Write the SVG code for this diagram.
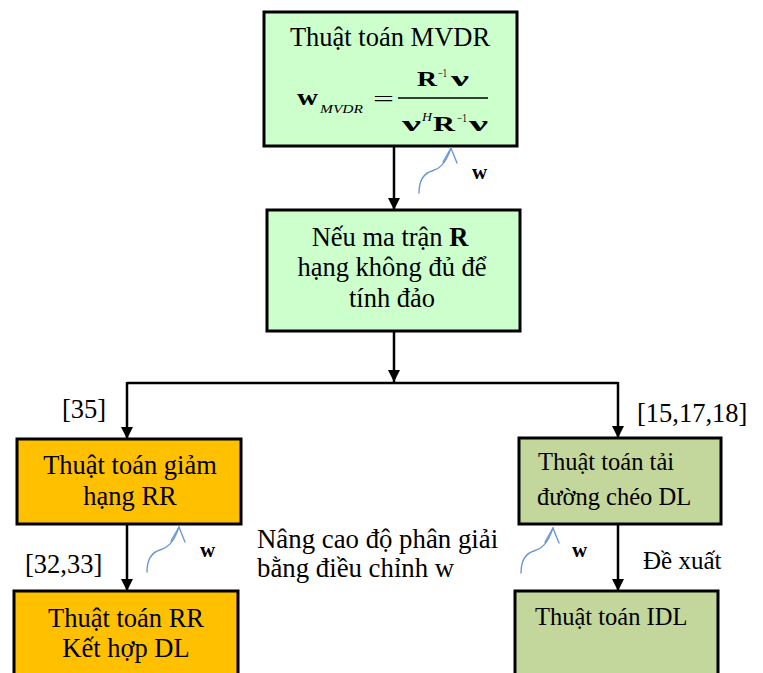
<svg xmlns="http://www.w3.org/2000/svg" width="763" height="673" viewBox="0 0 763 673">
  <defs>
    <style>
      .t { font-family: "Liberation Serif", "Times New Roman", serif; fill: #000; }
      .box { stroke: #000; stroke-width: 3; }
      .mint { fill: #CCFFCC; }
      .amber { fill: #FFC000; }
      .olive { fill: #C3D69B; }
      .conn { stroke: #000; stroke-width: 2.5; fill: none; }
      .hint { stroke: #6C98D2; stroke-width: 1.4; fill: none; stroke-linecap: round; }
      .lbl { font-size: 26.5px; }
    </style>
    <marker id="ah" viewBox="0 0 12 12" refX="12" refY="6" markerWidth="12" markerHeight="12" markerUnits="userSpaceOnUse" orient="auto">
      <path d="M0,0 L12,6 L0,12 Z" fill="#000"/>
    </marker>
    <g id="wiggle">
      <path class="hint" d="M0,0 C0,-14 6,-20 13,-22 C20,-24 26,-28 32,-45"/>
      <path class="hint" d="M24,-31 L32,-45 L38,-30"/>
    </g>
  </defs>

  <rect width="763" height="673" fill="#fff"/>

  <!-- connectors -->
  <g id="connectors">
    <line class="conn" x1="394" y1="146" x2="394" y2="210" marker-end="url(#ah)"/>
    <line class="conn" x1="394" y1="331" x2="394" y2="382" marker-end="url(#ah)"/>
    <line class="conn" x1="127" y1="383" x2="618" y2="383"/>
    <line class="conn" x1="127" y1="382" x2="127" y2="439" marker-end="url(#ah)"/>
    <line class="conn" x1="618" y1="382" x2="618" y2="438" marker-end="url(#ah)"/>
    <line class="conn" x1="127" y1="524" x2="127" y2="591" marker-end="url(#ah)"/>
    <line class="conn" x1="618" y1="524" x2="618" y2="591" marker-end="url(#ah)"/>
  </g>

  <!-- MVDR node -->
  <g id="mvdr">
    <rect class="box mint" x="264" y="12" width="253" height="134"/>
    <text class="t lbl" x="390" y="46" text-anchor="middle">Thuật toán MVDR</text>
    <text class="t" x="297" y="105" font-size="24" font-weight="bold" textLength="21" lengthAdjust="spacingAndGlyphs">w</text>
    <text class="t" x="320" y="113" font-size="13" font-style="italic" textLength="43" lengthAdjust="spacingAndGlyphs">MVDR</text>
    <text class="t" x="373" y="106" font-size="22" textLength="21" lengthAdjust="spacingAndGlyphs">=</text>
    <line x1="398" y1="98" x2="488" y2="98" stroke="#000" stroke-width="1.5"/>
    <text class="t" x="417" y="86" font-size="22" font-weight="bold" textLength="20" lengthAdjust="spacingAndGlyphs">R</text>
    <text class="t" x="438" y="77" font-size="12" textLength="9" lengthAdjust="spacingAndGlyphs">−1</text>
    <text class="t" x="451" y="86" font-size="22" font-weight="bold" textLength="18" lengthAdjust="spacingAndGlyphs">ν</text>
    <text class="t" x="402" y="131" font-size="22" font-weight="bold" textLength="19" lengthAdjust="spacingAndGlyphs">ν</text>
    <text class="t" x="422" y="121" font-size="13" font-style="italic" textLength="10" lengthAdjust="spacingAndGlyphs">H</text>
    <text class="t" x="433" y="131" font-size="22" font-weight="bold" textLength="22" lengthAdjust="spacingAndGlyphs">R</text>
    <text class="t" x="457" y="122" font-size="12" textLength="10" lengthAdjust="spacingAndGlyphs">−1</text>
    <text class="t" x="469" y="131" font-size="22" font-weight="bold" textLength="19" lengthAdjust="spacingAndGlyphs">ν</text>
  </g>

  <g id="w-top">
    <use href="#wiggle" x="419" y="193"/>
    <text class="t" x="472" y="179" font-size="21" font-weight="bold">w</text>
  </g>

  <!-- rank check node -->
  <g id="rank-check">
    <rect class="box mint" x="267" y="210" width="253" height="121"/>
    <text class="t lbl" x="390" y="246" text-anchor="middle">Nếu ma trận  <tspan font-weight="bold">R</tspan></text>
    <text class="t lbl" x="392" y="276" text-anchor="middle">hạng không đủ để</text>
    <text class="t lbl" x="392" y="307" text-anchor="middle">tính đảo</text>
  </g>

  <!-- reference labels -->
  <g id="refs">
    <text class="t lbl" x="62" y="418">[35]</text>
    <text class="t lbl" x="637" y="422">[15,17,18]</text>
    <text class="t lbl" x="25" y="573">[32,33]</text>
    <text class="t" x="643" y="569" font-size="25">Đề xuất</text>
  </g>

  <!-- RR node -->
  <g id="rr">
    <rect class="box amber" x="17" y="439" width="224" height="85"/>
    <text class="t lbl" x="130" y="474" text-anchor="middle">Thuật toán giảm</text>
    <text class="t lbl" x="130" y="505" text-anchor="middle">hạng RR</text>
  </g>

  <!-- RR + DL node -->
  <g id="rr-dl">
    <rect class="box amber" x="14" y="591" width="224" height="95"/>
    <text class="t lbl" x="126" y="627" text-anchor="middle">Thuật toán RR</text>
    <text class="t lbl" x="126" y="657" text-anchor="middle">Kết hợp DL</text>
  </g>

  <g id="w-left">
    <use href="#wiggle" x="147" y="572"/>
    <text class="t" x="200" y="557" font-size="21" font-weight="bold">w</text>
  </g>

  <!-- resolution note -->
  <g id="note">
    <text class="t" x="257" y="548" font-size="26.8">Nâng cao độ phân giải</text>
    <text class="t" x="257" y="577" font-size="26.8">bằng điều chỉnh w</text>
  </g>

  <!-- DL node -->
  <g id="dl">
    <rect class="box olive" x="519" y="438" width="202" height="86"/>
    <text class="t" x="538" y="470" font-size="24.5">Thuật toán tải</text>
    <text class="t" x="537" y="505" font-size="24.5">đường chéo DL</text>
  </g>

  <g id="w-right">
    <use href="#wiggle" x="521" y="573"/>
    <text class="t" x="572" y="557" font-size="21" font-weight="bold">w</text>
  </g>

  <!-- IDL node -->
  <g id="idl">
    <rect class="box olive" x="515" y="591" width="203" height="95"/>
    <text class="t" x="535" y="625" font-size="24.5">Thuật toán IDL</text>
  </g>
</svg>
